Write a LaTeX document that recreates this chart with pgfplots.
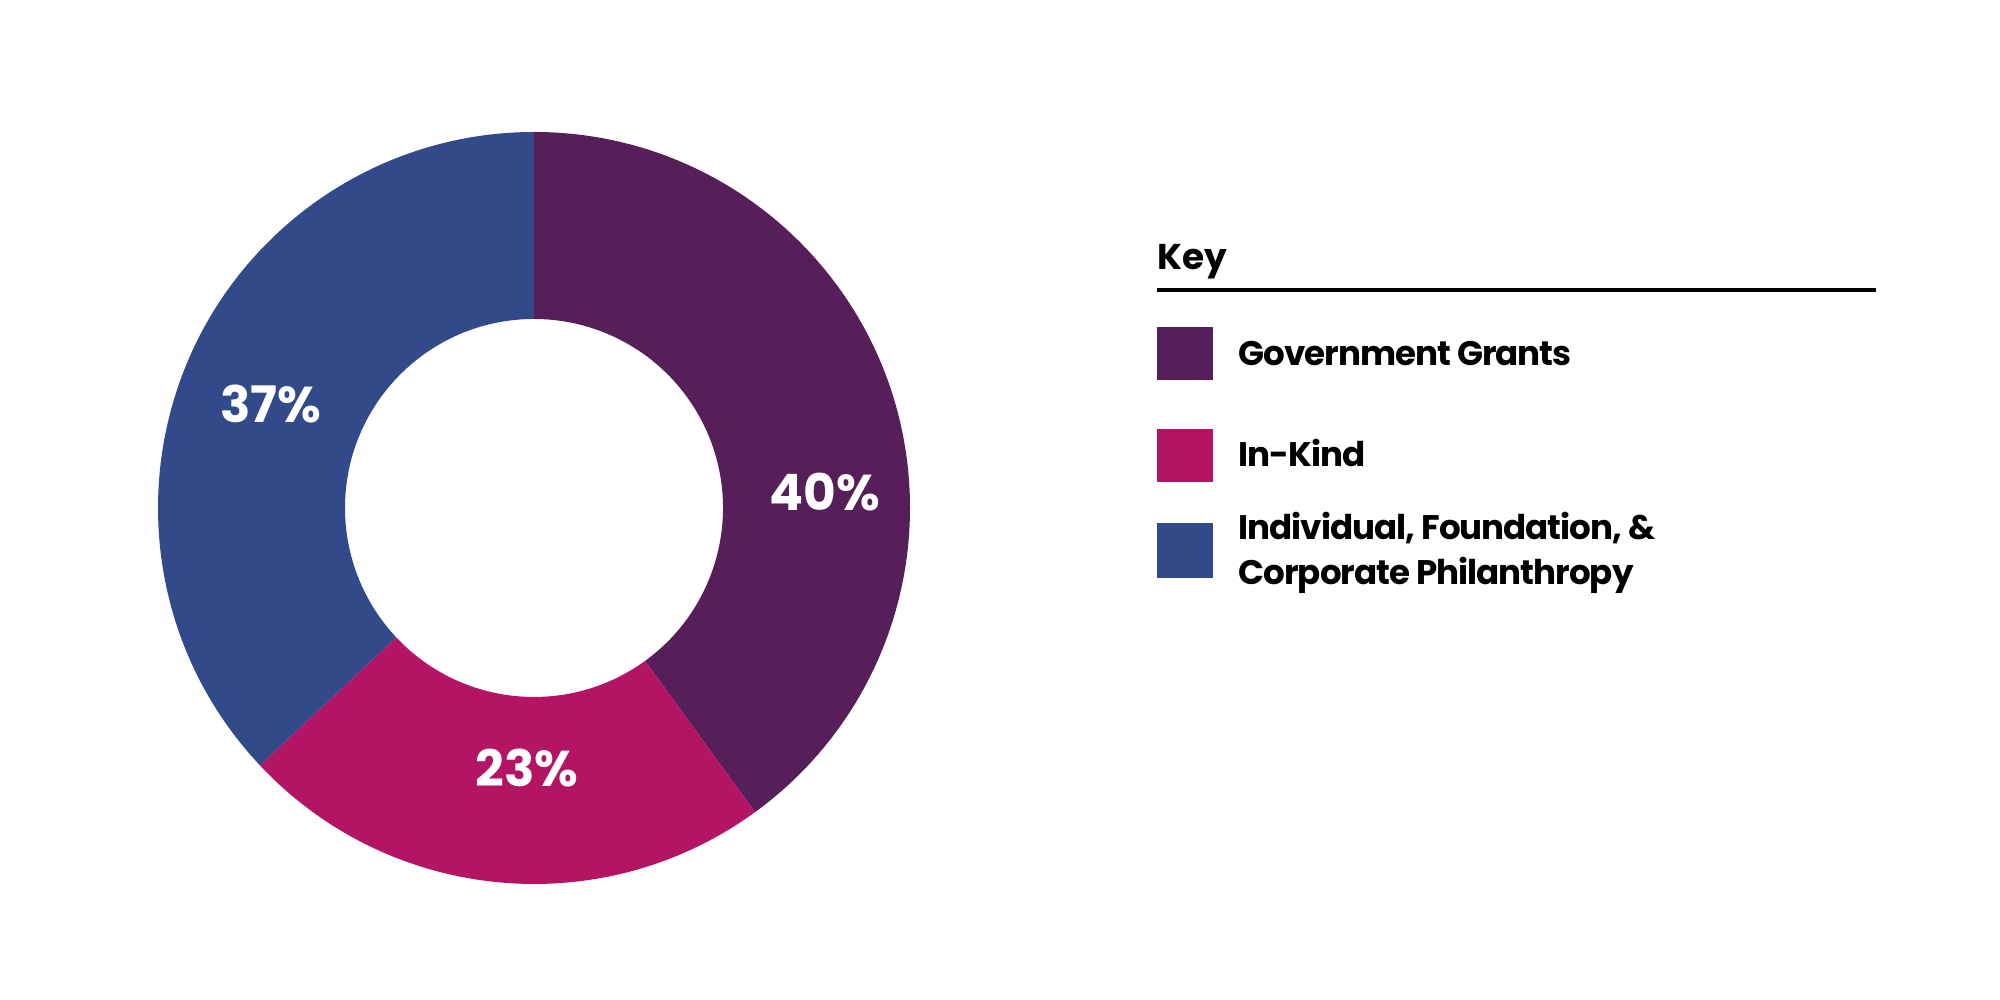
\documentclass[border=0pt]{standalone}
\usepackage{pgfplots}
\pgfplotsset{compat=1.18}
\usepackage{fontspec}
\setmainfont{Poppins}
\newfontfamily\keyfont[LetterSpace=-3]{Poppins}
\definecolor{cGov}{HTML}{561F5A}
\definecolor{cKind}{HTML}{B31464}
\definecolor{cInd}{HTML}{334A8A}
\begin{document}
\begin{tikzpicture}
\def\vA{40}\def\vB{23}\def\vC{37}
\pgfmathsetmacro\aA{90}
\pgfmathsetmacro\aB{90-3.6*\vA}
\pgfmathsetmacro\aC{\aB-3.6*\vB}
\pgfmathsetmacro\aD{\aC-3.6*\vC}
\def\cx{534}\def\cy{492}\def\Ro{376}\def\Ri{189}
\begin{axis}[scale only axis, width=20cm, height=10cm,
  xmin=0, xmax=2000, ymin=0, ymax=1000, hide axis, clip=false]
\path (axis cs:0,0) rectangle (axis cs:2000,1000);
% donut slices
\fill[cGov] (axis cs:{\cx+\Ro*cos(\aA)},{\cy+\Ro*sin(\aA)}) arc[start angle=\aA, end angle=\aB, radius=\Ro]
  -- (axis cs:{\cx+\Ri*cos(\aB)},{\cy+\Ri*sin(\aB)}) arc[start angle=\aB, end angle=\aA, radius=\Ri] -- cycle;
\fill[cKind] (axis cs:{\cx+\Ro*cos(\aB)},{\cy+\Ro*sin(\aB)}) arc[start angle=\aB, end angle=\aC, radius=\Ro]
  -- (axis cs:{\cx+\Ri*cos(\aC)},{\cy+\Ri*sin(\aC)}) arc[start angle=\aC, end angle=\aB, radius=\Ri] -- cycle;
\fill[cInd] (axis cs:{\cx+\Ro*cos(\aC)},{\cy+\Ro*sin(\aC)}) arc[start angle=\aC, end angle=\aD, radius=\Ro]
  -- (axis cs:{\cx+\Ri*cos(\aD)},{\cy+\Ri*sin(\aD)}) arc[start angle=\aD, end angle=\aC, radius=\Ri] -- cycle;
% percentage labels
\node[anchor=base, text=white, font=\fontsize{14.3}{16}\selectfont\bfseries] at (axis cs:825,489) {\vA\%};
\node[anchor=base, text=white, font=\fontsize{14.3}{16}\selectfont\bfseries] at (axis cs:527,213) {\vB\%};
\node[anchor=base, text=white, font=\fontsize{14.3}{16}\selectfont\bfseries] at (axis cs:271,577) {\vC\%};
% key
\node[anchor=base west, inner sep=0pt, font=\fontsize{10.2}{12}\selectfont\bfseries] at (axis cs:1157,730) {Key};
\draw[line width=1pt] (axis cs:1157,710) -- (axis cs:1876,710);
\fill[cGov] (axis cs:1157,620) rectangle (axis cs:1213,673);
\fill[cKind] (axis cs:1157,518) rectangle (axis cs:1213,571);
\fill[cInd] (axis cs:1157,422) rectangle (axis cs:1213,477);
\tikzset{keytext/.style={anchor=base west, inner sep=0pt, font=\keyfont\fontsize{9.7}{12}\selectfont\bfseries}}
\node[keytext] at (axis cs:1238,634) {Government Grants};
\node[keytext] at (axis cs:1238,533) {In-Kind};
\node[keytext] at (axis cs:1238,460) {Individual, Foundation, \&};
\node[keytext] at (axis cs:1238,415) {Corporate Philanthropy};
\end{axis}
\end{tikzpicture}
\end{document}
